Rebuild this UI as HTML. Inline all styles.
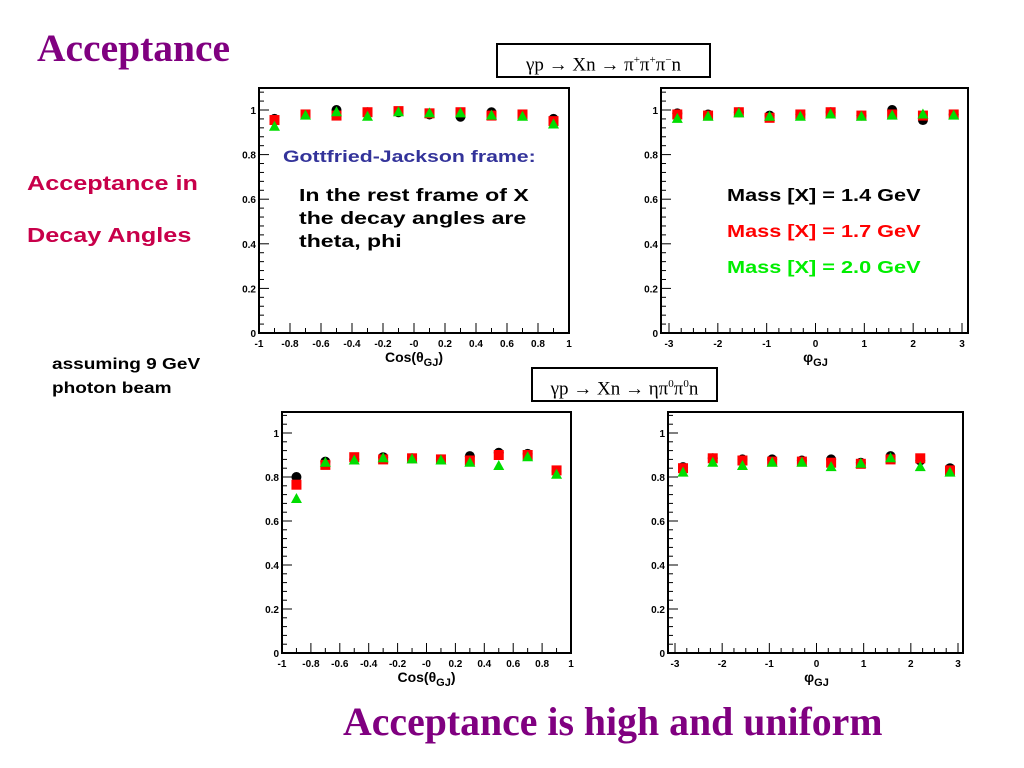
<!DOCTYPE html>
<html><head><meta charset="utf-8">
<style>
body{margin:0;width:1024px;height:768px;background:#fff;position:relative;overflow:hidden;font-family:"Liberation Sans",sans-serif}
.t{position:absolute;white-space:nowrap}
.sx{transform-origin:0 0}
svg{position:absolute;left:0;top:0}
</style></head>
<body>
<div class="t" style="left:37px;top:25px;font:bold 39.5px 'Liberation Serif',serif;color:#800080">Acceptance</div>
<div class="t sx" style="left:27px;top:173px;font:bold 20px 'Liberation Sans',sans-serif;transform:scaleX(1.26);color:#c8004a">Acceptance in</div>
<div class="t sx" style="left:27px;top:225px;font:bold 20px 'Liberation Sans',sans-serif;transform:scaleX(1.26);color:#c8004a">Decay Angles</div>
<div class="t sx" style="left:52px;top:353px;font:bold 16px/24px 'Liberation Sans',sans-serif;transform:scaleX(1.19);color:#000">assuming 9 GeV<br>photon beam</div>
<div class="t" style="left:343px;top:699px;font:bold 39.8px 'Liberation Serif',serif;color:#800080">Acceptance is high and uniform</div>
<div class="t" style="left:496px;top:43px;width:211px;height:31px;border:2px solid #000;font:19px/31px 'Liberation Serif',serif;text-align:center">γp → Xn → π<sup style="font-size:11px">+</sup>π<sup style="font-size:11px">+</sup>π<sup style="font-size:11px">−</sup>n</div>
<div class="t" style="left:531px;top:367px;width:183px;height:31px;border:2px solid #000;font:19px/31px 'Liberation Serif',serif;text-align:center">γp → Xn → ηπ<sup style="font-size:11px">0</sup>π<sup style="font-size:11px">0</sup>n</div>
<svg id="s" width="1024" height="768"></svg>
<div class="t sx" style="left:283px;top:147px;font:bold 17px 'Liberation Sans',sans-serif;transform:scaleX(1.25);color:#33339a">Gottfried-Jackson frame:</div>
<div class="t sx" style="left:299px;top:184px;font:bold 17.5px/23px 'Liberation Sans',sans-serif;transform:scaleX(1.32);color:#000">In the rest frame of X<br>the decay angles are<br>theta, phi</div>
<div class="t sx" style="left:727px;top:185px;font:bold 17.5px 'Liberation Sans',sans-serif;transform:scaleX(1.24);color:#000">Mass [X] = 1.4 GeV</div>
<div class="t sx" style="left:727px;top:221px;font:bold 17.5px 'Liberation Sans',sans-serif;transform:scaleX(1.24);color:#f00">Mass [X] = 1.7 GeV</div>
<div class="t sx" style="left:727px;top:257px;font:bold 17.5px 'Liberation Sans',sans-serif;transform:scaleX(1.24);color:#0e0">Mass [X] = 2.0 GeV</div>
<script>
const cosX=[-0.9,-0.7,-0.5,-0.3,-0.1,0.1,0.3,0.5,0.7,0.9];
const phiX=[-2.83,-2.2,-1.57,-0.94,-0.31,0.31,0.94,1.57,2.2,2.83];
const cosTicks=["-1","-0.8","-0.6","-0.4","-0.2","-0","0.2","0.4","0.6","0.8","1"];
const phiTicks=["-3","-2","-1","0","1","2","3"];
const tl_black=[0.96,0.98,1.0,0.99,0.99,0.98,0.97,0.99,0.98,0.96];
const tl_red=[0.955,0.98,0.975,0.99,0.995,0.985,0.99,0.975,0.98,0.95];
const tl_green=[0.925,0.975,0.99,0.97,0.99,0.985,0.985,0.975,0.97,0.935];
const tr_black=[0.985,0.98,0.99,0.975,0.98,0.99,0.975,1.0,0.955,0.98];
const tr_red=[0.98,0.975,0.99,0.965,0.98,0.99,0.975,0.98,0.975,0.98];
const tr_green=[0.96,0.97,0.985,0.97,0.97,0.98,0.97,0.975,0.98,0.975];
const bl_black=[0.80,0.87,0.88,0.89,0.885,0.88,0.895,0.91,0.905,0.825];
const bl_red=[0.765,0.855,0.89,0.88,0.885,0.88,0.875,0.90,0.90,0.83];
const bl_green=[0.70,0.865,0.875,0.885,0.88,0.875,0.865,0.85,0.89,0.81];
const br_black=[0.845,0.885,0.88,0.88,0.875,0.88,0.865,0.895,0.875,0.84];
const br_red=[0.84,0.885,0.875,0.87,0.87,0.865,0.86,0.88,0.885,0.83];
const br_green=[0.82,0.865,0.85,0.865,0.865,0.845,0.86,0.885,0.845,0.82];
const yTickVals=[0,0.2,0.4,0.6,0.8,1];
const yTickTexts=["0","0.2","0.4","0.6","0.8","1"];
const NS="http://www.w3.org/2000/svg";
const svg=document.getElementById('s');
function mk(t,a,p){const e=document.createElementNS(NS,t);for(const k in a)e.setAttribute(k,a[k]);(p||svg).appendChild(e);return e;}
function plot(P){
 const g=mk('g',{});
 
 
 const xs=v=>P.x0+(v-P.xmin)/(P.xmax-P.xmin)*(P.x1-P.x0);
 const ys=v=>P.y0-v*(P.y0-P.y1);
 const fr=mk('rect',{x:P.L,y:P.T,width:P.R-P.L,height:P.B-P.T,fill:'none',stroke:'#000','stroke-width':2},g);
 
 
 for(let v=0;v<=1.09;v+=0.04){const y=ys(v);const maj=Math.abs(v/0.2-Math.round(v/0.2))<1e-6;mk('line',{x1:P.L,x2:P.L+(maj?10:5),y1:y,y2:y,stroke:'#000','stroke-width':1},g);}
 yTickVals.forEach((v,i)=>{const t=mk('text',{x:P.L-3,y:ys(v)+4,'text-anchor':'end','font-size':10,'font-weight':'bold','font-family':'Liberation Sans'},g);t.textContent=yTickTexts[i];
  
  });
 const n=P.ticks.length;
 for(let i=0;i<n;i++){const v=P.xmin+i*(P.xmax-P.xmin)/(n-1);const x=xs(v);mk('line',{x1:x,x2:x,y1:P.B,y2:P.B-10,stroke:'#000'},g);
  const t=mk('text',{x:x,y:P.B+14,'text-anchor':'middle','font-size':10,'font-weight':'bold','font-family':'Liberation Sans'},g);t.textContent=P.ticks[i];
  
  
  if(i<n-1){for(let k=1;k<P.minor;k++){const xm=xs(v+k*(P.xmax-P.xmin)/(n-1)/P.minor);mk('line',{x1:xm,x2:xm,y1:P.B,y2:P.B-5,stroke:'#000'},g);}}}
 const xt=mk('text',{x:(P.x0+P.x1)/2,y:P.B+29,'text-anchor':'middle','font-size':14,'font-weight':'bold','font-family':'Liberation Sans'},g);
 xt.innerHTML=P.xl;
 
 
 const series=[[P.k,'#000','c'],[P.r,'#f00','s'],[P.gr,'#0d0','t']];
 series.forEach(([arr,col,sh])=>{arr.forEach((v,i)=>{const x=xs(P.xd[i]),y=ys(v);let m;
  if(sh=='c')m=mk('circle',{cx:x,cy:y,r:5,fill:col},g);
  else if(sh=='s')m=mk('rect',{x:x-5,y:y-5,width:10,height:10,fill:col},g);
  else m=mk('polygon',{points:`${x},${y-6} ${x-5.5},${y+4} ${x+5.5},${y+4}`,fill:col},g);
  
  });});
}
plot({name:'plot-cos-3pi',L:259,R:569,T:88,B:333,x0:259,x1:569,xmin:-1,xmax:1,y0:333,y1:110,ticks:cosTicks,minor:2,xd:cosX,k:tl_black,r:tl_red,gr:tl_green,xl:'Cos(θ<tspan dy="4" font-size="11">GJ</tspan><tspan dy="-4">)</tspan>'});
plot({name:'plot-phi-3pi',L:661,R:968,T:88,B:333,x0:669,x1:962,xmin:-3,xmax:3,y0:333,y1:110,ticks:phiTicks,minor:4,xd:phiX,k:tr_black,r:tr_red,gr:tr_green,xl:'φ<tspan dy="4" font-size="11">GJ</tspan>'});
plot({name:'plot-cos-eta2pi',L:282,R:571,T:412,B:653,x0:282,x1:571,xmin:-1,xmax:1,y0:653,y1:433,ticks:cosTicks,minor:2,xd:cosX,k:bl_black,r:bl_red,gr:bl_green,xl:'Cos(θ<tspan dy="4" font-size="11">GJ</tspan><tspan dy="-4">)</tspan>'});
plot({name:'plot-phi-eta2pi',L:668,R:963,T:412,B:653,x0:675,x1:958,xmin:-3,xmax:3,y0:653,y1:433,ticks:phiTicks,minor:4,xd:phiX,k:br_black,r:br_red,gr:br_green,xl:'φ<tspan dy="4" font-size="11">GJ</tspan>'});
</script>
</body></html>
